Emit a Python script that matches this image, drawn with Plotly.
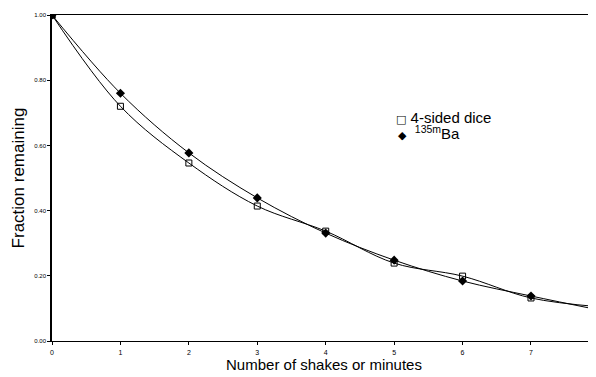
import plotly.graph_objects as go

# data
x_vals = [0, 1, 2, 3, 4, 5, 6, 7, 8]
dice = [1.00, 0.72, 0.546, 0.414, 0.337, 0.239, 0.199, 0.132, 0.105]
barium = [1.00, 0.76, 0.577, 0.439, 0.331, 0.248, 0.184, 0.138, 0.095]
x_ticks = [0, 1, 2, 3, 4, 5, 6, 7]
y_ticks = [0.0, 0.2, 0.4, 0.6, 0.8, 1.0]
series_names = ["4-sided dice", "<sup>135m</sup>Ba"]

FONT = "Liberation Sans, Arial, sans-serif"
OFF = 8  # page body margin
W, H = 596 - OFF, 377 - OFF
# plot area in page pixels: left 52, top 15, bottom 341, right 596
ML, MR, MT, MB = 52 - OFF, 0, 15 - OFF, 377 - 341

fig = go.Figure()
fig.add_trace(go.Scatter(
    x=x_vals, y=dice, mode="lines+markers", name=series_names[0],
    line=dict(color="black", width=1, shape="spline", smoothing=1),
    marker=dict(symbol="square-open", size=6, color="black", line=dict(width=1)),
    showlegend=False))
fig.add_trace(go.Scatter(
    x=x_vals, y=barium, mode="lines+markers", name=series_names[1],
    line=dict(color="black", width=1, shape="spline", smoothing=1),
    marker=dict(symbol="diamond", size=7, color="black"),
    showlegend=False))
# filled starting point (both series overlap at 1.00)
fig.add_trace(go.Scatter(
    x=x_vals[:1], y=dice[:1], mode="markers",
    marker=dict(symbol="square", size=7, color="black"), showlegend=False))

pw = W - ML - MR
ph = H - MT - MB
def px(x):  # page x -> paper
    return (x - OFF - ML) / pw
def py(y):  # page y -> paper
    return (H - MB - (y - OFF)) / ph

sym_sq = "<span style='font-family:DejaVu Sans;font-size:11px'>□</span>"
sym_di = "<span style='font-family:DejaVu Sans;font-size:11px'>◆</span>"
ann = [
    dict(x=px(395), y=py(118), xref="paper", yref="paper",
         text=sym_sq + " " + series_names[0],
         showarrow=False, xanchor="left", yanchor="middle", borderpad=0,
         font=dict(family=FONT, size=15, color="black")),
    dict(x=px(397), y=py(132.5), xref="paper", yref="paper",
         text=sym_di + "  " + series_names[1],
         showarrow=False, xanchor="left", yanchor="middle", borderpad=0,
         font=dict(family=FONT, size=15, color="black")),
]

fig.update_layout(
    width=W, height=H,
    margin=dict(l=ML, r=MR, t=MT, b=MB, pad=0),
    paper_bgcolor="white", plot_bgcolor="white",
    font=dict(family=FONT, color="black"),
    annotations=ann,
    xaxis=dict(range=[0, 7.95], tickvals=x_ticks, ticks="outside", ticklen=3,
               tickcolor="black", showline=True, linecolor="black", linewidth=1,
               mirror=True, showgrid=False, zeroline=False,
               ticklabelstandoff=2,
               tickfont=dict(size=7, family=FONT, color="black"),
               title=dict(text="Number of shakes or minutes", standoff=2,
                          font=dict(size=15, family=FONT, color="black")),
               automargin=False),
    yaxis=dict(range=[0, 1], tickvals=y_ticks, tickformat=".2f", ticks="outside",
               ticklen=3, tickcolor="black", showline=True, linecolor="black",
               linewidth=1.5, showgrid=False, zeroline=False,
               tickfont=dict(size=6, family=FONT, color="black"),
               title=dict(text="Fraction remaining", standoff=5,
                          font=dict(size=17, family=FONT, color="black")),
               automargin=False),
)

fig.write_html("out.html")
